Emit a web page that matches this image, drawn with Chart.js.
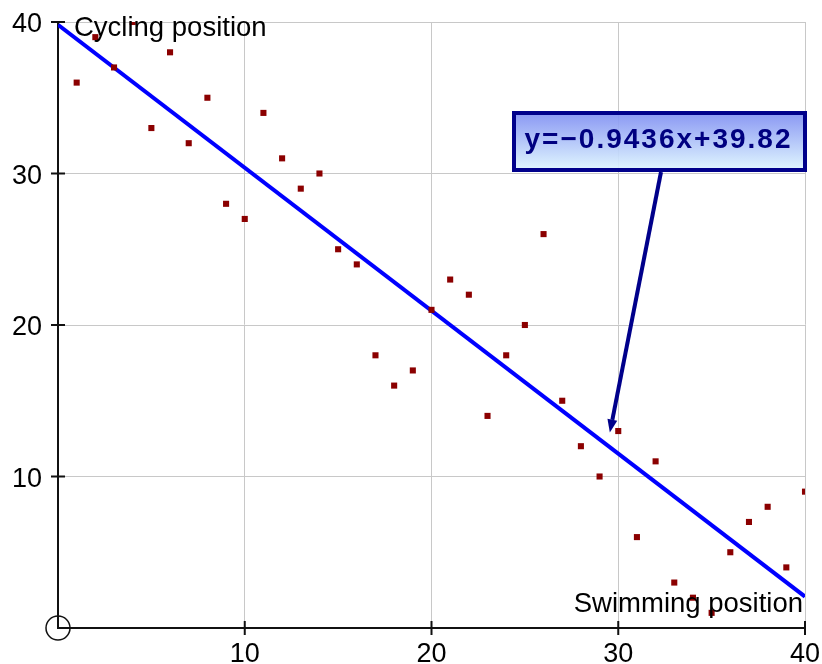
<!DOCTYPE html>
<html lang="en">
<head>
    <meta charset="UTF-8">
    <title>Swimming vs Cycling position</title>
    <script src="https://cdn.jsdelivr.net/npm/chart.js"></script>
    <style>
        body {
            margin: 0;
            background: #ffffff;
        }
        #chart {
            display: block;
        }
    </style>
</head>
<body>
    <canvas id="chart" width="822" height="664"></canvas>
    <script>
        // data
        const swimming = [1, 2, 3, 4, 5, 6, 7, 8, 9, 10, 11, 12, 13, 14, 15, 16, 17, 18, 19, 20,
            21, 22, 23, 24, 25, 26, 27, 28, 29, 30, 31, 32, 33, 34, 35, 36, 37, 38, 39, 40];
        const cycling = [36, 39, 37, 40, 33, 38, 32, 35, 28, 27, 34, 31, 29, 30, 25, 24, 18, 16, 17, 21,
            23, 22, 14, 18, 20, 26, 15, 12, 10, 13, 6, 11, 3, 2, 1, 5, 7, 8, 4, 9];
        const fitSlope = -0.9436;
        const fitIntercept = 39.82;
        const axisTicks = [10, 20, 30, 40];
        const xTitle = 'Swimming position';
        const yTitle = 'Cycling position';
        const fitLabel = 'y=\u22120.9436x+39.82';

        const FONT = '"Liberation Sans", Arial, sans-serif';

        const points = swimming.map((x, i) => ({ x: x, y: cycling[i] }));
        const fitLine = [0, 40].map(x => ({ x: x, y: fitIntercept + fitSlope * x }));

        // ticks crossing the axes, origin circle, titles and the equation callout
        const extras = {
            id: 'extras',
            afterDraw(chart) {
                const ctx = chart.ctx;
                const xs = chart.scales.x;
                const ys = chart.scales.y;
                const x0 = xs.getPixelForValue(0);
                const y0 = ys.getPixelForValue(0);

                ctx.save();
                ctx.strokeStyle = '#111';
                ctx.lineWidth = 2;
                axisTicks.forEach(v => {
                    const px = xs.getPixelForValue(v);
                    const py = ys.getPixelForValue(v);
                    ctx.beginPath();
                    ctx.moveTo(px, y0 - 7);
                    ctx.lineTo(px, y0 + 7);
                    ctx.moveTo(x0 - 7, py);
                    ctx.lineTo(x0 + 7, py);
                    ctx.stroke();
                });

                ctx.lineWidth = 1.5;
                ctx.beginPath();
                ctx.arc(x0, y0, 12, 0, Math.PI * 2);
                ctx.stroke();

                ctx.fillStyle = '#000';
                ctx.font = '27.5px ' + FONT;
                ctx.textBaseline = 'alphabetic';
                ctx.textAlign = 'left';
                ctx.fillText(yTitle, x0 + 16, ys.getPixelForValue(40) + 14);
                ctx.textAlign = 'right';
                ctx.fillText(xTitle, xs.getPixelForValue(40) - 2, y0 - 16);

                // callout box
                const bx = 514, by = 113, bw = 291, bh = 57;
                const grad = ctx.createLinearGradient(0, by, 0, by + bh);
                grad.addColorStop(0, 'rgba(128, 143, 242, 0.92)');
                grad.addColorStop(1, 'rgba(222, 246, 255, 0.92)');
                ctx.fillStyle = grad;
                ctx.fillRect(bx, by, bw, bh);
                ctx.strokeStyle = '#00008b';
                ctx.lineWidth = 4;
                ctx.strokeRect(bx, by, bw, bh);

                ctx.fillStyle = '#000080';
                ctx.font = 'bold 28px ' + FONT;
                ctx.textAlign = 'center';
                ctx.letterSpacing = '2px';
                ctx.fillText(fitLabel, bx + bw / 2 - 1, by + 35);
                ctx.letterSpacing = '0px';

                // arrow down to the fitted line
                const sx = 661, sy = by + bh + 2;
                const tx = xs.getPixelForValue(29.55), ty = ys.getPixelForValue(12.9);
                const ang = Math.atan2(ty - sy, tx - sx);
                const headLen = 13, headW = 5;
                const bxh = tx - headLen * Math.cos(ang), byh = ty - headLen * Math.sin(ang);
                ctx.strokeStyle = '#00008b';
                ctx.lineWidth = 4;
                ctx.beginPath();
                ctx.moveTo(sx, sy);
                ctx.lineTo(bxh, byh);
                ctx.stroke();
                ctx.fillStyle = '#00008b';
                ctx.beginPath();
                ctx.moveTo(tx, ty);
                ctx.lineTo(bxh + headW * Math.sin(ang), byh - headW * Math.cos(ang));
                ctx.lineTo(bxh - headW * Math.sin(ang), byh + headW * Math.cos(ang));
                ctx.closePath();
                ctx.fill();
                ctx.restore();
            }
        };

        const gridColor = c => (c.tick && c.tick.value === 0) ? 'rgba(0,0,0,0)' : '#c8c8c8';
        const hideZero = v => (v === 0 ? '' : v);

        new Chart(document.getElementById('chart'), {
            type: 'scatter',
            data: {
                datasets: [
                    {
                        label: 'Positions',
                        data: points,
                        backgroundColor: '#8b0000',
                        borderWidth: 0,
                        pointStyle: 'rect',
                        pointRadius: 4.3
                    },
                    {
                        type: 'line',
                        label: 'Fit',
                        data: fitLine,
                        borderColor: '#0000ff',
                        borderWidth: 4,
                        pointRadius: 0,
                        fill: false
                    }
                ]
            },
            options: {
                responsive: false,
                animation: false,
                events: [],
                layout: {
                    padding: { top: 22, right: 17, left: 0, bottom: 0 }
                },
                plugins: {
                    legend: { display: false },
                    tooltip: { enabled: false }
                },
                scales: {
                    x: {
                        type: 'linear',
                        min: 0,
                        max: 40,
                        afterFit: s => {
                            s.height = 36;
                            s.paddingLeft = 0;
                            s.paddingRight = 0;
                        },
                        afterBuildTicks: s => { s.ticks = [0].concat(axisTicks).map(v => ({ value: v })); },
                        grid: { color: gridColor, drawTicks: false, lineWidth: 1 },
                        border: { display: true, color: '#111', width: 2 },
                        ticks: {
                            callback: hideZero,
                            color: '#000',
                            padding: 10,
                            maxRotation: 0,
                            font: { family: FONT, size: 27 }
                        }
                    },
                    y: {
                        type: 'linear',
                        min: 0,
                        max: 40,
                        afterFit: s => {
                            s.width = 58;
                            s.paddingTop = 0;
                            s.paddingBottom = 0;
                        },
                        afterBuildTicks: s => { s.ticks = [0].concat(axisTicks).map(v => ({ value: v })); },
                        grid: { color: gridColor, drawTicks: false, lineWidth: 1 },
                        border: { display: true, color: '#111', width: 2 },
                        ticks: {
                            callback: hideZero,
                            color: '#000',
                            padding: 16,
                            labelOffset: 3,
                            font: { family: FONT, size: 27 }
                        }
                    }
                }
            },
            plugins: [extras]
        });
    </script>
</body>
</html>
